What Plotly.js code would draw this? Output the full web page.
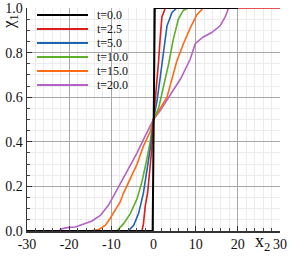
<!DOCTYPE html>
<html><head><meta charset="utf-8">
<script src="https://cdn.plot.ly/plotly-3.0.1.min.js"></script>
<style>html,body{margin:0;padding:0;background:#fff}#chart{width:289px;height:257px}</style>
</head><body><div id="chart"></div>
<script>
const seriesNames = ["t=0.0","t=2.5","t=5.0","t=10.0","t=15.0","t=20.0"];
const seriesColors = ["#000000","#e01b1b","#1f64b0","#5cb02a","#ff6a14","#b462c6"];
const x_t0  = [-30, -0.2, 0.3, 20];
const y_t0  = [0, 0, 1, 1];
const x_t25 = [-30, -2.75, -2.4, -1.97, -1.4, -0.95, -0.4, 0, 0.5, 0.9, 1.2, 1.6, 2.0, 2.8, 30];
const y_t25 = [0, 0, 0.03, 0.11, 0.17, 0.27, 0.37, 0.5, 0.6, 0.68, 0.76, 0.87, 0.96, 1, 1];
const x_t5  = [-30, -6, -4.7, -3.55, -2.4, -1.4, -0.6, 0, 0.8, 1.6, 2.4, 3.2, 4.4, 5.5];
const y_t5  = [0, 0, 0.026, 0.078, 0.17, 0.29, 0.39, 0.5, 0.58, 0.69, 0.81, 0.92, 0.98, 1];
const x_t10 = [-30, -8.7, -7.1, -5.5, -3.9, -2.75, -1.6, -0.8, 0, 1.2, 2.4, 3.6, 4.7, 5.9, 7.1, 8.3];
const y_t10 = [0, 0, 0.033, 0.078, 0.145, 0.22, 0.32, 0.4, 0.5, 0.55, 0.65, 0.75, 0.86, 0.95, 0.99, 1];
const x_t15 = [-30, -15, -13, -11.4, -10.3, -9.1, -7.9, -7.1, -5.5, -3.9, -2.4, -0.8, 0, 1.5, 3.2, 4.5, 5.5, 7.1, 8.7, 10.3, 11.8];
const y_t15 = [0, 0, 0.006, 0.026, 0.056, 0.093, 0.13, 0.17, 0.235, 0.30, 0.38, 0.445, 0.5, 0.55, 0.6, 0.69, 0.76, 0.84, 0.91, 0.97, 1];
const x_t20 = [-30, -22.5, -21.7, -20.5, -18.5, -16.6, -14.6, -12.6, -10.7, -9.1, -7.9, -5.5, -3.9, -2.4, -0.8, 0, 1.6, 4, 6.5, 8.7, 9.9, 11.8, 13.8, 15.8, 17, 17.8];
const y_t20 = [0, 0, 0.01, 0.015, 0.018, 0.03, 0.045, 0.07, 0.115, 0.17, 0.21, 0.295, 0.35, 0.41, 0.47, 0.5, 0.54, 0.61, 0.685, 0.77, 0.84, 0.87, 0.89, 0.92, 0.96, 1];
const xs = [x_t0, x_t25, x_t5, x_t10, x_t15, x_t20];
const ys = [y_t0, y_t25, y_t5, y_t10, y_t15, y_t20];
const xTickVals = [-30, -20, -10, 0, 10, 20, 30];
const xTickText = ["-30", "-20", "-10", "0", "10", "20", "30"];
const yTickVals = [0, 0.2, 0.4, 0.6, 0.8, 1.0];
const yTickText = ["0.0", "0.2", "0.4", "0.6", "0.8", "1.0"];

const traces = [];
for (let i = seriesNames.length - 1; i >= 0; i--) {
  traces.push({
    x: xs[i], y: ys[i], name: seriesNames[i], type: 'scatter', mode: 'lines',
    line: {color: seriesColors[i], width: i === 0 ? 2 : 1.6}
  });
}
const serif = "'Liberation Serif', 'Times New Roman', Times, serif";
const W = 289, H = 257, ML = 27, MR = 9, MT = 8, MB = 26;
const pw = W - ML - MR, ph = H - MT - MB;
const px2x = p => (p - ML) / pw;
const py2y = p => (H - MB - p) / ph;

const shapes = [], annotations = [];
seriesNames.forEach((n, i) => {
  const yy = py2y(15 + 14 * i);
  shapes.push({type: 'line', xref: 'paper', yref: 'paper', x0: px2x(37), x1: px2x(88), y0: yy, y1: yy,
               line: {color: seriesColors[i], width: i === 0 ? 2 : 1.8}});
  annotations.push({text: n, xref: 'paper', yref: 'paper', x: px2x(95), y: yy, xanchor: 'left', yanchor: 'middle',
                    showarrow: false, font: {family: serif, size: 12, color: '#111'}});
});
annotations.push({text: 'χ<sub>1</sub>', xref: 'paper', yref: 'paper', x: px2x(10), y: py2y(22), xanchor: 'center', yanchor: 'middle',
     textangle: -90, showarrow: false, font: {family: serif, size: 17, color: '#111'}});
annotations.push({text: 'x<sub>2</sub>', xref: 'paper', yref: 'paper', x: px2x(262), y: py2y(243), xanchor: 'center', yanchor: 'middle',
     showarrow: false, font: {family: serif, size: 18, color: '#111'}});

const axisCommon = {
  showline: true, linecolor: '#333', linewidth: 1.5,
  ticks: 'inside', ticklen: 5, tickcolor: '#333', tickwidth: 1,
  showgrid: true, gridcolor: '#a8a8a8', gridwidth: 1,
  zeroline: false, tickfont: {family: serif, size: 14, color: '#111'}
};
const minorCommon = {ticks: 'inside', ticklen: 3, tickcolor: '#444', showgrid: true, gridcolor: '#ececec', gridwidth: 1};
const layout = {
  width: W, height: H,
  margin: {l: ML, r: MR, t: MT, b: MB},
  paper_bgcolor: '#fff', plot_bgcolor: '#fff',
  showlegend: false,
  xaxis: Object.assign({}, axisCommon, {range: [-30, 30], tickmode: 'array', tickvals: xTickVals, ticktext: xTickText,
          minor: Object.assign({}, minorCommon, {dtick: 2})}),
  yaxis: Object.assign({}, axisCommon, {range: [0, 1], tickmode: 'array', tickvals: yTickVals, ticktext: yTickText,
          minor: Object.assign({}, minorCommon, {dtick: 0.05})}),
  shapes: shapes,
  annotations: annotations
};
Plotly.newPlot('chart', traces, layout, {displayModeBar: false, staticPlot: true});
</script></body></html>
